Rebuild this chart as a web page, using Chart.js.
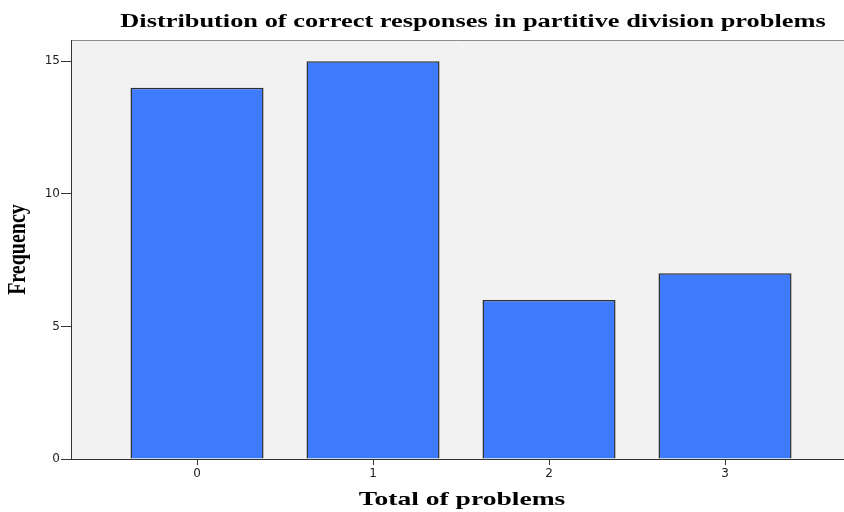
<!DOCTYPE html>
<html>
<head>
<meta charset="utf-8">
<script src="https://cdn.jsdelivr.net/npm/chart.js@4"></script>
<style>
  html, body { margin: 0; padding: 0; background: #fff; }
  #wrap { width: 844px; height: 512px; }
</style>
</head>
<body>
<div id="wrap"><canvas id="chart" width="844" height="512"></canvas></div>
<script>
const categories = [0, 1, 2, 3]
const frequencies = [14, 15, 6, 7]
const yTicks = [0, 5, 10, 15]

const chartTitle = 'Distribution of correct responses in partitive division problems'
const xTitle = 'Total of problems'
const yTitle = 'Frequency'

const serif = '"Liberation Serif", "Times New Roman", serif'
const stretch = 1.45  // the SPSS export is squashed wide, so text is too

// draw text stretched horizontally around its centre
function wideText(ctx, text, cx, y, size, sx) {
  ctx.save()
  ctx.translate(cx, y)
  ctx.scale(sx, 1)
  ctx.font = 'bold ' + size + 'px ' + serif
  ctx.fillStyle = '#000'
  ctx.textAlign = 'center'
  ctx.textBaseline = 'alphabetic'
  ctx.fillText(text, 0, 0)
  ctx.restore()
}

const plotDecor = {
  id: 'plotDecor',
  beforeDraw(chart) {
    const { ctx, chartArea: a } = chart
    ctx.save()
    ctx.fillStyle = '#f2f2f2'
    ctx.fillRect(a.left, a.top, a.right - a.left, a.bottom - a.top)
    ctx.strokeStyle = '#8c8c8c'
    ctx.lineWidth = 1
    ctx.beginPath()
    ctx.moveTo(a.left, a.top + 0.5)
    ctx.lineTo(a.right, a.top + 0.5)
    ctx.stroke()
    ctx.restore()
  },
  afterDraw(chart) {
    const { ctx, chartArea: a } = chart
    wideText(ctx, chartTitle, 473, 27, 18, 1.465)
    wideText(ctx, xTitle, 462, 505, 19, stretch)
    // y title: rotated, glyph height widened
    ctx.save()
    ctx.translate(25, (a.top + a.bottom) / 2)
    ctx.rotate(-Math.PI / 2)
    ctx.scale(1, 1.3)
    ctx.font = 'bold 20px ' + serif
    ctx.fillStyle = '#000'
    ctx.textAlign = 'center'
    ctx.textBaseline = 'alphabetic'
    ctx.fillText(yTitle, 0, 0)
    ctx.restore()
  }
}

const ctx = document.getElementById('chart').getContext('2d')
new Chart(ctx, {
  type: 'bar',
  data: {
    datasets: [{
      label: 'Frequency',
      data: categories.map((c, i) => ({ x: c, y: frequencies[i] })),
      backgroundColor: '#3f7bff',
      borderColor: '#2e2e2e',
      borderWidth: 1.5,
      borderSkipped: 'start',
      categoryPercentage: 1,
      barPercentage: 0.756
    }]
  },
  plugins: [plotDecor],
  options: {
    responsive: false,
    animation: false,
    layout: { padding: { top: 40, right: 0, left: 0, bottom: 0 } },
    plugins: {
      legend: { display: false },
      title: { display: false },
      tooltip: { enabled: false }
    },
    scales: {
      x: {
        type: 'linear',
        offset: false,
        min: -0.716,
        max: 3.676,
        afterBuildTicks: axis => { axis.ticks = categories.map(v => ({ value: v })) },
        afterFit: scale => { scale.height = 53 },
        grid: { display: true, offset: false, drawOnChartArea: false, drawTicks: true, tickLength: 6, tickColor: '#333' },
        border: { display: true, color: '#333', width: 1 },
        ticks: { color: '#222', font: { family: '"DejaVu Sans", sans-serif', size: 12 }, padding: 2, autoSkip: false, maxRotation: 0 },
        title: { display: false }
      },
      y: {
        min: 0,
        max: 15.8,
        afterBuildTicks: axis => { axis.ticks = yTicks.map(v => ({ value: v })) },
        afterFit: scale => { scale.width = 71 },
        grid: { display: true, drawOnChartArea: false, drawTicks: true, tickLength: 10, tickColor: '#333' },
        border: { display: true, color: '#333', width: 1 },
        ticks: { color: '#222', font: { family: '"DejaVu Sans", sans-serif', size: 12 }, padding: 1 },
        title: { display: false }
      }
    }
  }
})
</script>
</body>
</html>
